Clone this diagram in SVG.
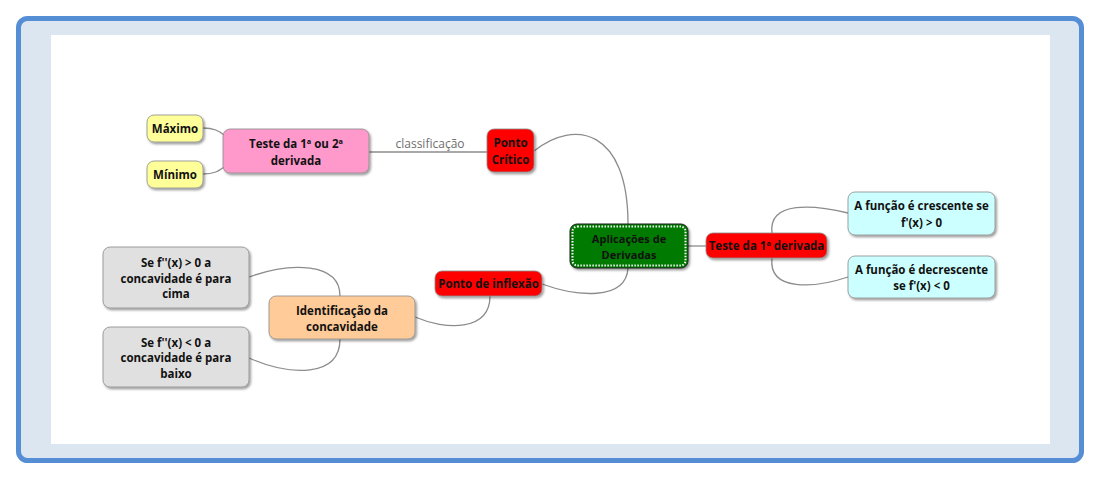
<svg xmlns="http://www.w3.org/2000/svg" width="1101" height="480" viewBox="0 0 1101 480">
<defs>
<filter id="sh" x="-20%" y="-20%" width="140%" height="150%">
<feDropShadow dx="1.5" dy="1.8" stdDeviation="1.2" flood-color="#000" flood-opacity="0.4"/>
</filter>
<style>
.n{stroke:#8a8a8a;stroke-width:0.8;filter:url(#sh)}
.t{font-family:"Open Sans","Noto Sans","DejaVu Sans",sans-serif;font-weight:700;font-size:11.5px;fill:#111;text-anchor:middle;dominant-baseline:central}
.c{fill:none;stroke:#8c8c8c;stroke-width:1.3}
.lbl{font-family:"Open Sans","Noto Sans","DejaVu Sans",sans-serif;font-size:12px;fill:#6e6e6e;text-anchor:middle;dominant-baseline:central}
</style>
</defs>
<rect x="0" y="0" width="1101" height="480" fill="#fff"/>
<rect x="18.5" y="18.5" width="1063" height="442" rx="9" fill="#dce6f1" stroke="#558ed5" stroke-width="5"/>
<rect x="51" y="35" width="999" height="409" fill="#fff"/>

<g id="connectors">
<path class="c" d="M534,151 C575,118 628,130 628,224"/>
<path class="c" d="M628,268 C626,302 575,296 542,284"/>
<path class="c" d="M688,246 L706,246"/>
<path class="c" d="M772,233 C768,200 815,205 848,213"/>
<path class="c" d="M772,258 C768,292 815,288 848,277"/>
<path class="c" d="M490,296 C490,332 445,330 415,317"/>
<path class="c" d="M340,296 C340,262 290,262 249,277"/>
<path class="c" d="M340,339 C340,378 290,376 249,358"/>
<path class="c" d="M369,152 L487,152"/>
<path class="c" d="M203,128 C214,128 219,131 224,135"/>
<path class="c" d="M203,174 C214,174 219,171 224,167"/>
<text class="lbl" x="430" y="143.5">classificação</text>
</g>

<g id="maximo"><rect class="n" x="147" y="115" width="56" height="27" rx="7" fill="#ffff99"/><text class="t" x="175" y="128.5">Máximo</text></g>
<g id="minimo"><rect class="n" x="147" y="161" width="56" height="27" rx="7" fill="#ffff99"/><text class="t" x="175" y="174.5">Mínimo</text></g>
<g id="teste12"><rect class="n" x="223" y="129" width="146" height="44" rx="7" fill="#ff99cc"/><text class="t" x="296" y="143">Teste da 1ª ou 2ª</text><text class="t" x="296" y="160">derivada</text></g>
<g id="pontocritico"><rect class="n" x="487" y="129" width="47" height="43" rx="7" fill="#ff0000"/><text class="t" x="510.5" y="142.5">Ponto</text><text class="t" x="510.5" y="159.5">Crítico</text></g>
<g id="central"><rect x="570" y="224" width="118" height="44" rx="7" fill="#007a00" stroke="#222" stroke-width="1" filter="url(#sh)"/><rect x="572.5" y="226.5" width="113" height="39" rx="5" fill="none" stroke="#fff" stroke-width="2" stroke-dasharray="1.4 1.6"/><text class="t" style="font-size:11px" x="629" y="238">Aplicações de</text><text class="t" style="font-size:11px" x="629" y="254">Derivadas</text></g>
<g id="teste1"><rect class="n" x="706" y="233" width="121" height="25" rx="7" fill="#ff0000"/><text class="t" x="766.5" y="245.5">Teste da 1ª derivada</text></g>
<g id="crescente"><rect class="n" x="848" y="192" width="147" height="43" rx="7" fill="#ccffff"/><text class="t" x="921.5" y="205.5">A função é crescente se</text><text class="t" x="921.5" y="222">f'(x) &gt; 0</text></g>
<g id="decrescente"><rect class="n" x="848" y="256" width="147" height="42" rx="7" fill="#ccffff"/><text class="t" x="921.5" y="269">A função é decrescente</text><text class="t" x="921.5" y="285.5">se f'(x) &lt; 0</text></g>
<g id="inflexao"><rect class="n" x="435" y="271" width="107" height="25" rx="7" fill="#ff0000"/><text class="t" x="488.5" y="283.5">Ponto de inflexão</text></g>
<g id="concavidade"><rect class="n" x="269" y="296" width="146" height="43" rx="7" fill="#ffcc99"/><text class="t" x="342" y="310">Identificação da</text><text class="t" x="342" y="326">concavidade</text></g>
<g id="cima"><rect class="n" x="103" y="247" width="146" height="61" rx="7" fill="#e0e0e0"/><text class="t" x="176" y="262.5">Se f''(x) &gt; 0 a</text><text class="t" x="176" y="278">concavidade é para</text><text class="t" x="176" y="293.5">cima</text></g>
<g id="baixo"><rect class="n" x="103" y="327" width="146" height="60" rx="7" fill="#e0e0e0"/><text class="t" x="176" y="342">Se f''(x) &lt; 0 a</text><text class="t" x="176" y="357.5">concavidade é para</text><text class="t" x="176" y="373">baixo</text></g>
</svg>
